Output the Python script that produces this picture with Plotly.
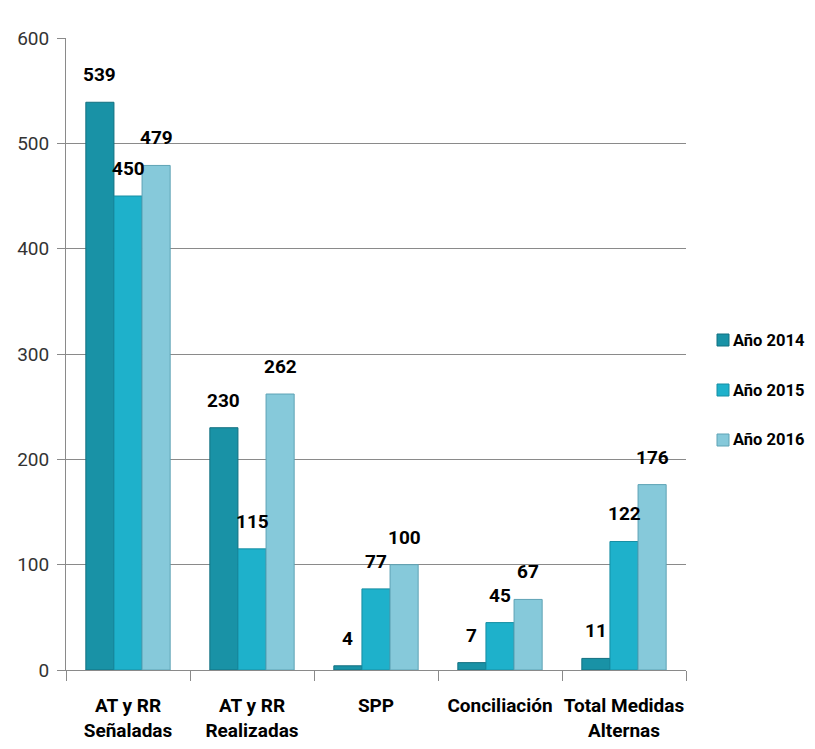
import plotly.graph_objects as go

categories = ["AT y RR<br>Señaladas", "AT y RR<br>Realizadas", "SPP", "Conciliación", "Total Medidas<br>Alternas"]
series_names = ["Año 2014", "Año 2015", "Año 2016"]
values_2014 = [539, 230, 4, 7, 11]
values_2015 = [450, 115, 77, 45, 122]
values_2016 = [479, 262, 100, 67, 176]
y_ticks = [0, 100, 200, 300, 400, 500, 600]

colors = ["#1992a6", "#1eb1cb", "#86c9da"]
edge = ["#137080", "#168ea3", "#5ea3b5"]
FONT = "Roboto, Liberation Sans, sans-serif"

W, H = 799, 733
L, R, T, B = 58, 121, 30, 71
PW, PH = W - L - R, H - T - B

fig = go.Figure()
all_vals = [values_2014, values_2015, values_2016]
bar_px = PW / len(categories) * 0.68 / 3
for i, (name, vals) in enumerate(zip(series_names, all_vals)):
    fig.add_trace(go.Bar(
        x=categories, y=vals, name=name,
        marker=dict(color=colors[i], line=dict(color=edge[i], width=1)),
        showlegend=False,
    ))
    for c, v in zip(categories, vals):
        fig.add_annotation(x=c, y=v, text=str(v), showarrow=False,
                           xshift=(i - 1) * bar_px, yshift=14, yanchor="bottom",
                           font=dict(family=FONT, size=19, color="black", weight="bold"))
    # manual legend
    py = 340 + 50 * i - 8  # figure pixel y of item centre
    yc = 1 - (py - T) / PH
    x0 = (709 - L) / PW
    x1 = (721 - L) / PW
    dy = 6 / PH
    fig.add_shape(type="rect", xref="paper", yref="paper", x0=x0, x1=x1, y0=yc - dy, y1=yc + dy,
                  fillcolor=colors[i], line=dict(color=edge[i], width=1))
    fig.add_annotation(xref="paper", yref="paper", x=(723 - L) / PW, y=yc, text=name, showarrow=False,
                       xanchor="left", yanchor="middle",
                       font=dict(family=FONT, size=16.5, color="black", weight="bold"))

fig.update_layout(
    width=W, height=H,
    margin=dict(l=L, r=R, t=T, b=B, autoexpand=False),
    barmode="group", bargap=0.32, bargroupgap=0,
    plot_bgcolor="white", paper_bgcolor="white",
    font=dict(family=FONT, color="black"),
    showlegend=False,
    yaxis=dict(range=[0, 600], tickvals=y_ticks, showgrid=True, gridcolor="#8a8a8a", gridwidth=1,
               showline=True, linecolor="#8a8a8a", ticks="outside", ticklen=8, tickcolor="#8a8a8a",
               ticklabelstandoff=4,
               tickfont=dict(family=FONT, size=19, color="#333333"), zeroline=False),
    xaxis=dict(showline=True, linecolor="#8a8a8a", ticks="outside", ticklen=10, tickcolor="#8a8a8a",
               tickson="boundaries", tickangle=0, ticklabelstandoff=18,
               tickfont=dict(family=FONT, size=19, color="black", weight="bold")),
)

fig.write_html("out.html")
